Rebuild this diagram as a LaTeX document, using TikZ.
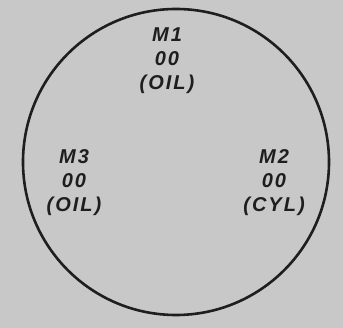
\documentclass[tikz,border=0pt]{standalone}
\usepackage{fontspec}
\setsansfont{Liberation Sans}[LetterSpace=10]
\usepackage{xcolor}
\definecolor{paper}{HTML}{C8C8C8}
\definecolor{ink}{HTML}{1E1E1E}
\tikzset{
  gaugetext/.style={ink,align=center,inner sep=0pt,
    font=\sffamily\bfseries\itshape\fontsize{20}{24}\selectfont}
}
\begin{document}
\begin{tikzpicture}[x=1pt,y=-1pt,line width=2.6pt]
  \fill[paper] (0,0) rectangle (343,328);
  \draw[ink] (176,162) circle (153);
  \node[gaugetext] (m1) at (167,61) {M1\\00\\(OIL)};
  \node[gaugetext] (m2) at (274,183) {M2\\00\\(CYL)};
  \node[gaugetext] (m3) at (74,183) {M3\\00\\(OIL)};
\end{tikzpicture}
\end{document}
